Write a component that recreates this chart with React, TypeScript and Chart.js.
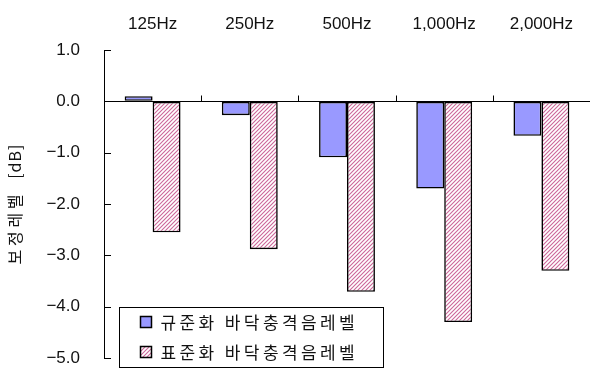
import { useEffect, useRef } from "react";
import { Chart, registerables } from "chart.js";

Chart.register(...registerables);

const categories = ["125Hz", "250Hz", "500Hz", "1,000Hz", "2,000Hz"];
const normalizedLevel = [0.1, -0.27, -1.09, -1.7, -0.67];
const standardizedLevel = [-2.55, -2.88, -3.71, -4.3, -3.3];
const seriesNames = ["규준화 바닥충격음레벨", "표준화 바닥충격음레벨"];
const yTickValues = [1, 0, -1, -2, -3, -4, -5];
const yTitle = "보정레벨 [dB]";

const BLUE = "#9999ff";
const KFAMILY = '"Noto Sans CJK KR", sans-serif';
const LFAMILY = '"Liberation Sans", Arial, sans-serif';

function makeHatch(ctx: CanvasRenderingContext2D): CanvasPattern | string {
  const s = 4;
  const c = document.createElement("canvas");
  c.width = s;
  c.height = s;
  const g = c.getContext("2d");
  if (!g) return "#e8b8cc";
  g.fillStyle = "#ffffff";
  g.fillRect(0, 0, s, s);
  g.strokeStyle = "#cc6699";
  g.lineWidth = 1.1;
  g.beginPath();
  g.moveTo(-1, s + 1);
  g.lineTo(s + 1, -1);
  g.moveTo(-1, 1);
  g.lineTo(1, -1);
  g.moveTo(s - 1, s + 1);
  g.lineTo(s + 1, s - 1);
  g.stroke();
  return ctx.createPattern(c, "repeat") || "#e8b8cc";
}

export default function App() {
  const ref = useRef<HTMLCanvasElement>(null);

  useEffect(() => {
    const canvas = ref.current;
    if (!canvas) return;
    const ctx = canvas.getContext("2d");
    if (!ctx) return;
    const hatch = makeHatch(ctx);

    const decor = {
      id: "decor",
      afterDatasetsDraw(chart: any) {
        const c = chart.ctx as CanvasRenderingContext2D;
        const ca = chart.chartArea;
        const xs = chart.scales.x;
        const ys = chart.scales.y;
        const y0 = Math.round(ys.getPixelForValue(0)) + 0.5;
        c.save();
        c.strokeStyle = "#000";
        c.lineWidth = 1;
        c.beginPath();
        c.moveTo(ca.left, y0);
        c.lineTo(ca.right, y0);
        for (let i = 1; i < categories.length; i++) {
          const x = Math.round((xs.getPixelForValue(i - 1) + xs.getPixelForValue(i)) / 2) + 0.5;
          c.moveTo(x, y0);
          c.lineTo(x, y0 - 6);
        }
        for (const v of yTickValues) {
          const y = Math.round(ys.getPixelForValue(v)) + 0.5;
          c.moveTo(ca.left, y);
          c.lineTo(ca.left + 7, y);
        }
        c.stroke();
        c.restore();
      },
      afterDraw(chart: any) {
        const c = chart.ctx as CanvasRenderingContext2D;
        const ca = chart.chartArea;

        // y axis title (rotated), Korean part and unit part with different spacing
        c.save();
        const parts = yTitle.split(" ");
        const spacings = ["3.7px", "1px"];
        const gap = 12;
        c.font = `16px ${KFAMILY}`;
        const widths = parts.map((p, i) => {
          (c as any).letterSpacing = spacings[i] || "1px";
          return c.measureText(p).width;
        });
        const total = widths.reduce((a, b) => a + b, 0) + gap * (parts.length - 1);
        c.translate(15, (ca.top + ca.bottom) / 2);
        c.rotate(-Math.PI / 2);
        c.fillStyle = "#111";
        c.textAlign = "left";
        c.textBaseline = "middle";
        let x = -total / 2;
        parts.forEach((p, i) => {
          (c as any).letterSpacing = spacings[i] || "1px";
          c.fillText(p, x, 0);
          x += widths[i] + gap;
        });
        c.restore();

        // legend
        c.save();
        const bx = Math.round(ca.left + 15) + 0.5;
        const by = Math.round(ca.bottom - 51) + 0.5;
        const bw = 264;
        const bh = 60;
        c.fillStyle = "#fff";
        c.fillRect(bx, by, bw, bh);
        c.strokeStyle = "#000";
        c.lineWidth = 1;
        c.strokeRect(bx, by, bw, bh);
        const fills = [BLUE, hatch];
        c.font = `17px ${KFAMILY}`;
        (c as any).letterSpacing = "3.4px";
        c.textAlign = "left";
        c.textBaseline = "middle";
        seriesNames.forEach((name, i) => {
          const cy = by + 14 + i * 30;
          c.fillStyle = fills[i] as any;
          c.fillRect(bx + 21, cy - 5, 11, 11);
          c.strokeStyle = "#000";
          c.lineWidth = 1.5;
          c.strokeRect(bx + 21, cy - 5, 11, 11);
          c.fillStyle = "#111";
          c.fillText(name, bx + 41, cy + 1);
        });
        c.restore();
      },
    };

    const chart = new Chart(ctx, {
      type: "bar",
      data: {
        labels: categories,
        datasets: [
          {
            label: seriesNames[0],
            data: normalizedLevel,
            backgroundColor: BLUE,
            borderColor: "#000",
            borderWidth: 1.6,
            borderSkipped: false,
          },
          {
            label: seriesNames[1],
            data: standardizedLevel,
            backgroundColor: hatch as any,
            borderColor: "#000",
            borderWidth: 1.6,
            borderSkipped: false,
          },
        ],
      },
      options: {
        responsive: false,
        animation: false,
        events: [],
        datasets: {
          bar: { barPercentage: 1, categoryPercentage: 0.575 },
        },
        layout: { padding: { top: 12, right: 0, bottom: 12, left: 0 } },
        plugins: {
          legend: { display: false },
          tooltip: { enabled: false },
          title: { display: false },
        },
        font: { family: LFAMILY, size: 17 },
        color: "#111",
        scales: {
          x: {
            position: "top",
            grid: { display: false, drawTicks: false },
            border: { display: false },
            ticks: {
              padding: 15,
              color: "#111",
              font: { family: LFAMILY, size: 17 },
              maxRotation: 0,
            },
            afterFit: (scale: any) => {
              scale.height = 38;
            },
          },
          y: {
            min: -5,
            max: 1,
            grid: {
              display: true,
              drawOnChartArea: false,
              drawTicks: true,
              tickLength: 24,
              tickColor: "rgba(0,0,0,0)",
            },
            border: { display: true, color: "#000", width: 1 },
            ticks: {
              padding: 0,
              color: "#111",
              font: { family: LFAMILY, size: 17 },
              callback: (v: any) => {
                const n = Number(v);
                return (n < 0 ? "\u2212" : "") + Math.abs(n).toFixed(1);
              },
            },
            afterBuildTicks: (scale: any) => {
              scale.ticks = yTickValues.map((v) => ({ value: v }));
            },
            afterFit: (scale: any) => {
              scale.width = 104;
            },
          },
        },
      },
      plugins: [decor],
    });

    return () => chart.destroy();
  }, []);

  return (
    <div style={{ position: "absolute", left: 0, top: 0, width: 590, height: 370, background: "#fff" }}>
      <canvas ref={ref} width={590} height={370} />
    </div>
  );
}
